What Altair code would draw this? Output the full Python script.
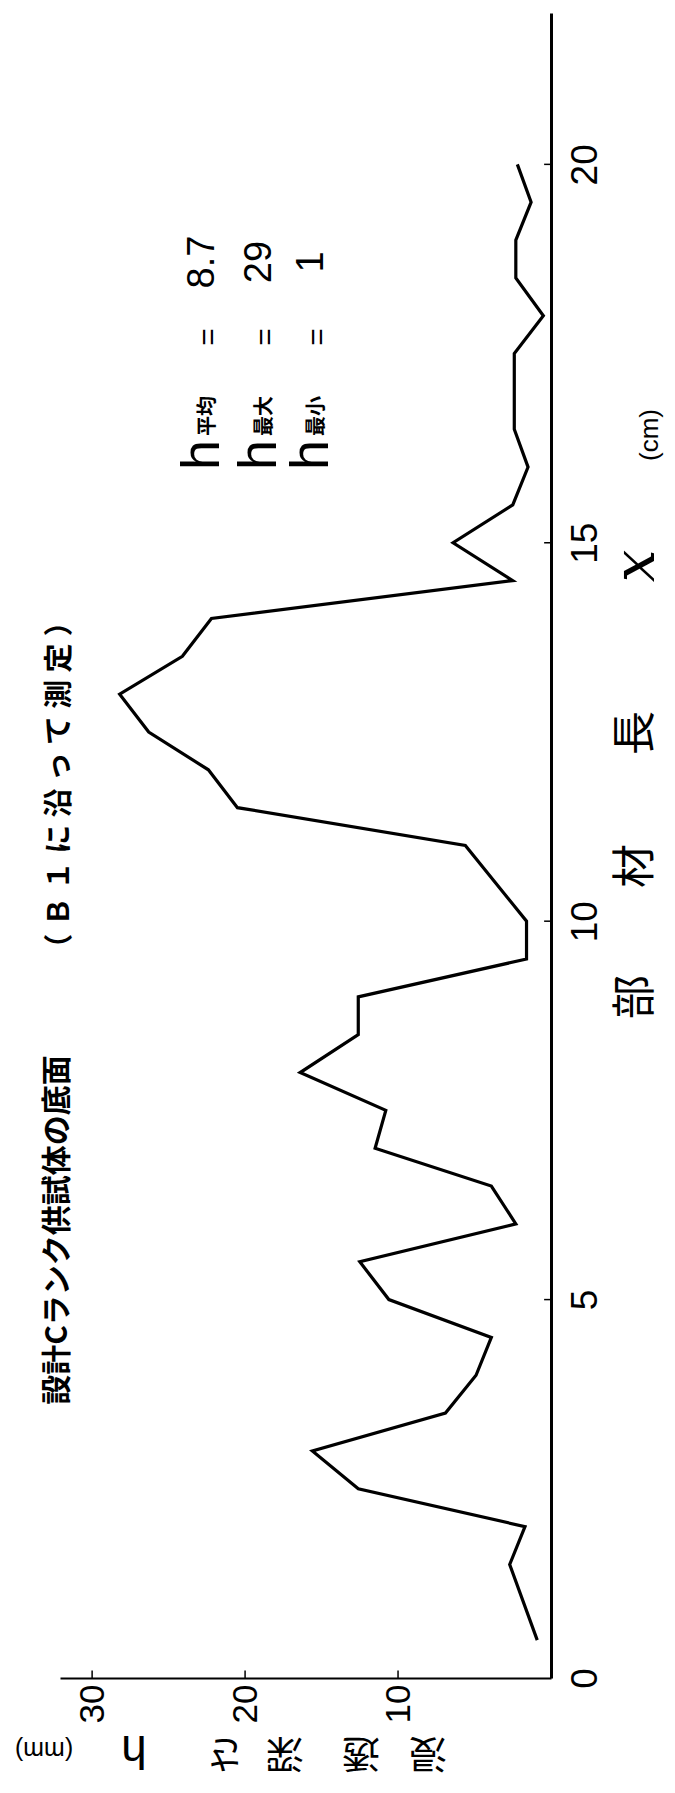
import altair as alt
import pandas as pd

# --- data (length along member, cm / depth, mm) ---
length_cm = [0.5, 1.5, 2.0, 2.5, 3.0, 3.5, 4.0, 4.5, 5.0, 5.5, 6.0, 6.5, 7.0, 7.5,
             8.0, 8.5, 9.0, 9.5, 10.0, 11.0, 11.5, 12.0, 12.5, 13.0, 13.5, 14.0,
             14.5, 15.0, 15.5, 16.0, 16.5, 17.5, 18.0, 18.5, 19.0, 19.5, 20.0]
depth_mm = [0.9, 2.7, 1.7, 12.6, 15.6, 6.9, 4.9, 3.9, 10.6, 12.5, 2.3, 3.9, 11.5, 10.8,
            16.4, 12.6, 12.6, 1.6, 1.6, 5.6, 20.5, 22.4, 26.3, 28.2, 24.1, 22.2,
            2.5, 6.4, 2.5, 1.5, 2.4, 2.4, 0.5, 2.3, 2.3, 1.3, 2.2]
h_ticks = [10, 20, 30]
l_ticks = [0, 5, 10, 15, 20]
stat_names = ["平均", "最大", "最小"]
stat_values = ["8.7", "29", "1"]

df = pd.DataFrame({"L": length_cm, "h": depth_mm})

W, H = 491, 1665
LEFT, TOP = 60, 13  # plot-area origin on the page

xscale = alt.Scale(domain=[0, 32.1], reverse=True, nice=False, zero=False)
yscale = alt.Scale(domain=[0, 22], nice=False, zero=False)

NUM_FONT = "Liberation Sans"
CJK = "Noto Sans CJK JP"

line = alt.Chart(df).mark_line(color="black", strokeWidth=3.2).encode(
    x=alt.X("h:Q", scale=xscale,
            axis=alt.Axis(values=h_ticks, format="d", orient="bottom", title=None, grid=False,
                          domainColor="black", domainWidth=2.2, ticks=False,
                          labelAngle=270, labelAlign="right", labelBaseline="middle",
                          labelPadding=6, labelFontSize=35, labelFont=NUM_FONT,
                          labelColor="black", labelFontWeight="normal")),
    y=alt.Y("L:Q", scale=yscale,
            axis=alt.Axis(values=l_ticks, format="d", orient="right", title=None, grid=False,
                          domainColor="black", domainWidth=3, ticks=False,
                          labelAngle=270, labelAlign="center", labelBaseline="top",
                          labelPadding=16, labelFontSize=37, labelFont=NUM_FONT,
                          labelColor="black", labelFontWeight="normal")),
    order=alt.Order("L:Q"),
)

# inward tick marks
lt = pd.DataFrame({"L": [v for v in l_ticks if v > 0]})
ltick = alt.Chart(lt).mark_rule(color="black", strokeWidth=1.5).encode(
    y=alt.Y("L:Q", scale=yscale), x=alt.datum(0, scale=xscale), x2=alt.datum(0.45))
ht = pd.DataFrame({"h": h_ticks})
htick = alt.Chart(ht).mark_rule(color="black", strokeWidth=1.5).encode(
    x=alt.X("h:Q", scale=xscale), y=alt.datum(0, scale=yscale), y2=alt.datum(0.1))


def label(text, px, py, size, angle, font=CJK, weight="normal", style="normal"):
    d = pd.DataFrame({"t": [text]})
    return alt.Chart(d).mark_text(
        fontSize=size, angle=angle, font=font, fontWeight=weight, fontStyle=style,
        align="center", baseline="middle", color="black",
    ).encode(text="t:N", x=alt.value(px - LEFT), y=alt.value(py - TOP))


SP = "\u2005"
texts = [
    label("設計Cランク供試体の底面", 58, 1230, 30, 270, weight="bold"),
    label(SP.join("（Ｂ１に沿って測定）"), 60, 785, 29, 270, weight="bold"),
    # member-length axis title
    label("部", 637, 997, 44, 270),
    label("材", 637, 866, 44, 270),
    label("長", 637, 733, 44, 270),
    label("x", 637, 566, 58, 270, font="DejaVu Serif", style="italic"),
    label("(cm)", 650, 435, 26, 270, font=NUM_FONT),
    # depth axis title (upside down)
    label("浸", 428, 1752, 38, 180),
    label("透", 361, 1752, 38, 180),
    label("深", 285, 1752, 38, 180),
    label("さ", 225, 1752, 38, 180),
    label("h", 134, 1750, 46, 180, font=NUM_FONT),
    label("(mm)", 44, 1750, 25, 180, font=NUM_FONT),
]

row_x = [203, 260, 312]
for name, val, rx in zip(stat_names, stat_values, row_x):
    texts.append(label("h", rx, 455, 54, 270, font=NUM_FONT))
    texts.append(label(name, rx + 5, 416, 20, 270, weight="bold"))
    texts.append(label("=", rx + 6, 337, 30, 270, font=NUM_FONT))
    texts.append(label(val, rx, 262, 38, 270, font=NUM_FONT))

chart = alt.layer(line, ltick, htick, *texts).properties(
    width=W, height=H,
    padding={"left": LEFT - 8, "top": TOP - 8, "right": 675 - 16 - (LEFT - 8) - W,
             "bottom": 1793 - 16 - (TOP - 8) - H},
    autosize=alt.AutoSizeParams(type="none"),
).configure(background="white").configure_view(stroke=None)

chart.save("out.html", embed_options={"renderer": "svg", "actions": False})
